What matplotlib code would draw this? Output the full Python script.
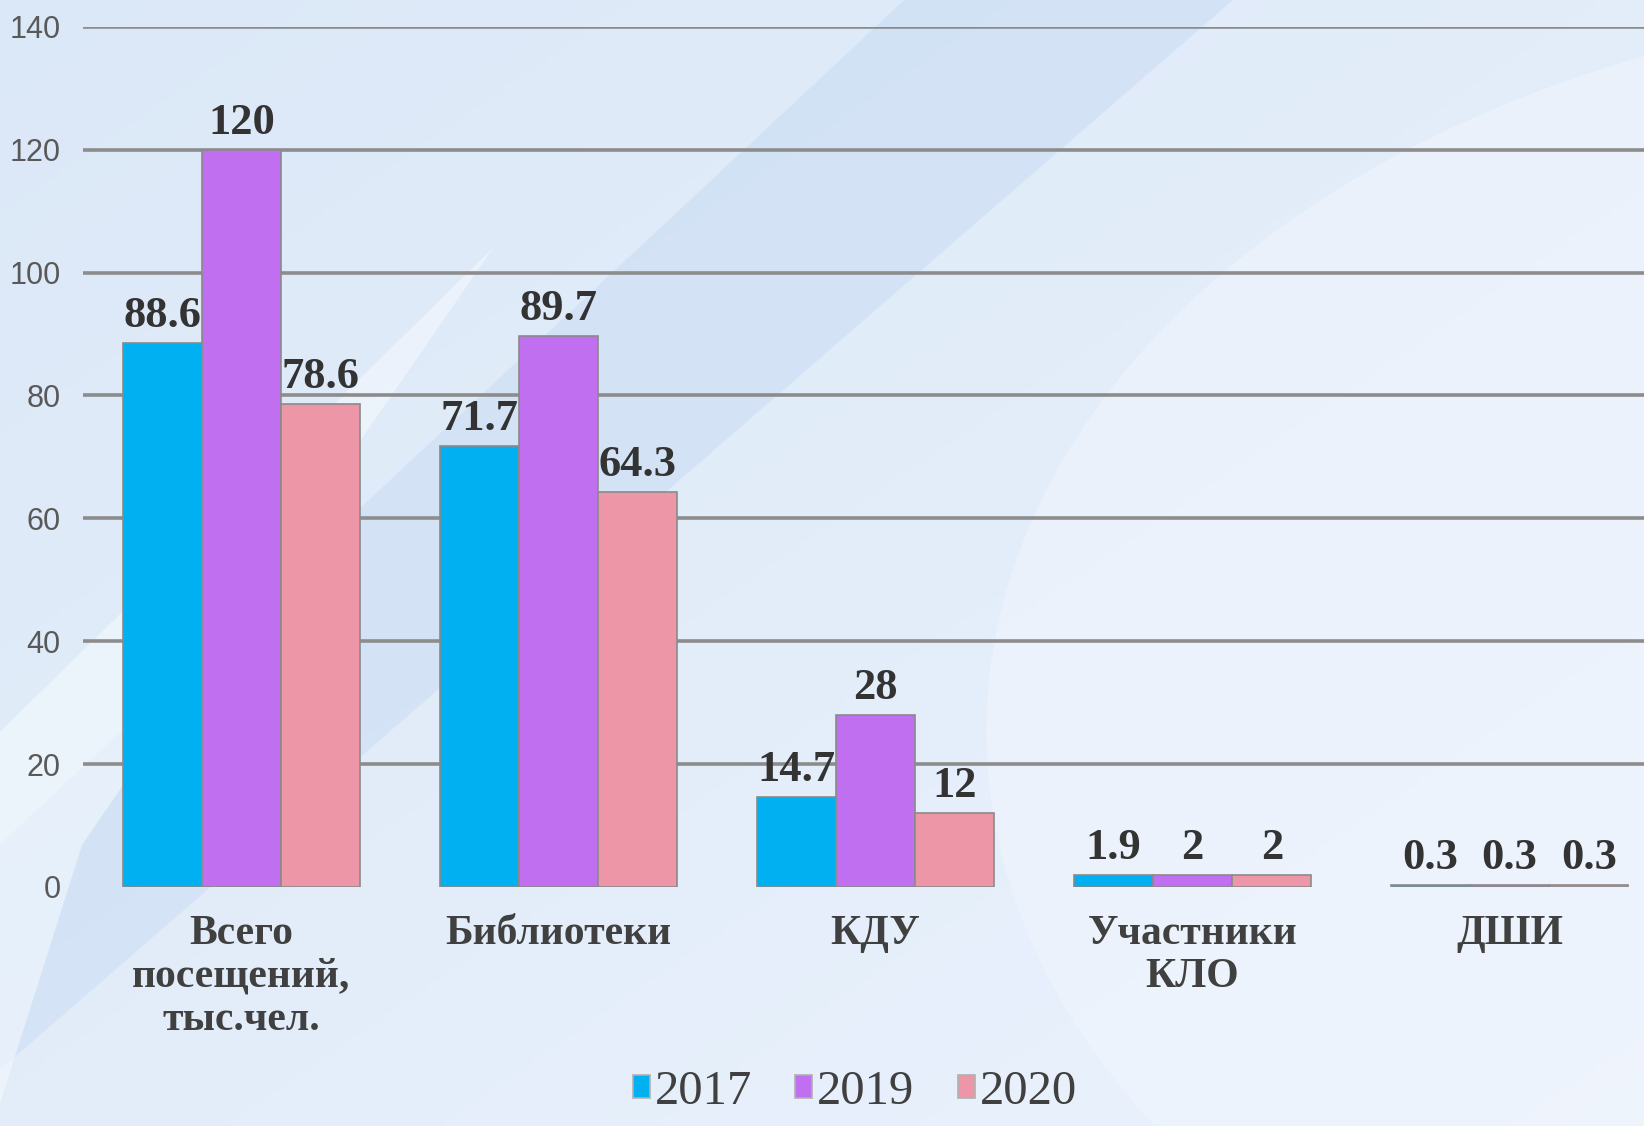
import numpy as np
import matplotlib
matplotlib.use("Agg")
import matplotlib.pyplot as plt
from matplotlib.patches import Polygon, Circle

categories = ["Всего\nпосещений,\nтыс.чел.", "Библиотеки", "КДУ", "Участники\nКЛО", "ДШИ"]
series_names = ["2017", "2019", "2020"]
v2017 = [88.6, 71.7, 14.7, 1.9, 0.3]
v2019 = [120, 89.7, 28, 2, 0.3]
v2020 = [78.6, 64.3, 12, 2, 0.3]
yticks = [0, 20, 40, 60, 80, 100, 120, 140]

colors = ["#00b0f0", "#bf6ff0", "#ec96a8"]
W, H = 1644, 1126
fig = plt.figure(figsize=(W / 100, H / 100), dpi=100)

# background gradient
bg = fig.add_axes([0, 0, 1, 1], zorder=-10)
bg.set_axis_off()
yy, xx = np.mgrid[0:1:200j, 0:1:300j]
c1 = np.array([0.86, 0.91, 0.97])
c2 = np.array([0.92, 0.95, 0.99])
t = np.clip(0.5 * xx + 0.5 * yy, 0, 1)[..., None]
img = c1 * (1 - t) + c2 * t
bg.imshow(img, extent=[0, 1, 0, 1], aspect="auto", origin="upper")
bg.add_patch(Polygon([[0.0, 0.25], [0.55, 1.0], [0.75, 1.0], [0.0, 0.05]],
                     closed=True, color="#c4d9f2", alpha=0.45, lw=0))
bg.add_patch(Polygon([[0.0, 0.02], [0.0, 0.35], [0.3, 0.78], [0.05, 0.25]],
                     closed=True, color="#f4f9fe", alpha=0.6, lw=0))
bg.add_patch(Circle((1.25, 0.35), 0.65, transform=bg.transAxes,
                    color="#f2f6fd", alpha=0.5, lw=0))
bg.set_xlim(0, 1)
bg.set_ylim(0, 1)

left = 83 / W
bottom = 1 - 887 / H
top = 1 - 26.7 / H
right = 1668 / W
ax = fig.add_axes([left, bottom, right - left, top - bottom])
ax.patch.set_alpha(0)

x = np.arange(len(categories))
bw = 0.25
z = 3
for i, (vals, c) in enumerate(zip([v2017, v2019, v2020], colors)):
    pos = x + (i - 1) * bw
    ax.bar(pos, vals, width=bw, color=c, edgecolor="#8a8a8a", linewidth=1.2,
           zorder=z, label=series_names[i])
    for px, v in zip(pos, vals):
        ax.annotate(f"{v:g}", (px, v), xytext=(0, 5), textcoords="offset points",
                    ha="center", va="bottom", fontsize=32, fontweight="bold",
                    family="Liberation Serif", color="#333333", zorder=z + 0.5)
    z += 1

ax.set_ylim(0, 140)
ax.set_xlim(-0.5, 4.5)
ax.set_yticks(yticks)
for yv in yticks[1:]:
    ax.axhline(yv, color="#8c8c8c", lw=2.6, zorder=1)
ax.tick_params(axis="y", length=0, pad=16, labelsize=22, labelcolor="#595959")
for lab in ax.get_yticklabels():
    lab.set_family("Liberation Sans")
ax.set_xticks(x)
ax.set_xticklabels(categories, fontsize=30, fontweight="bold",
                   family="Liberation Serif", color="#404040", linespacing=1.18)
ax.tick_params(axis="x", length=0, pad=20)
for s in ax.spines.values():
    s.set_visible(False)

leg = fig.legend(loc="lower center", bbox_to_anchor=(855 / W, -0.028), ncol=3,
                 frameon=False, prop={"family": "Liberation Serif", "size": 35},
                 handlelength=0.35, handleheight=0.35, handletextpad=0.1,
                 columnspacing=0.9, labelcolor="#404040")
for h in leg.legend_handles:
    h.set_edgecolor("#b0b0b0")

fig.savefig("out.png", dpi=100)
